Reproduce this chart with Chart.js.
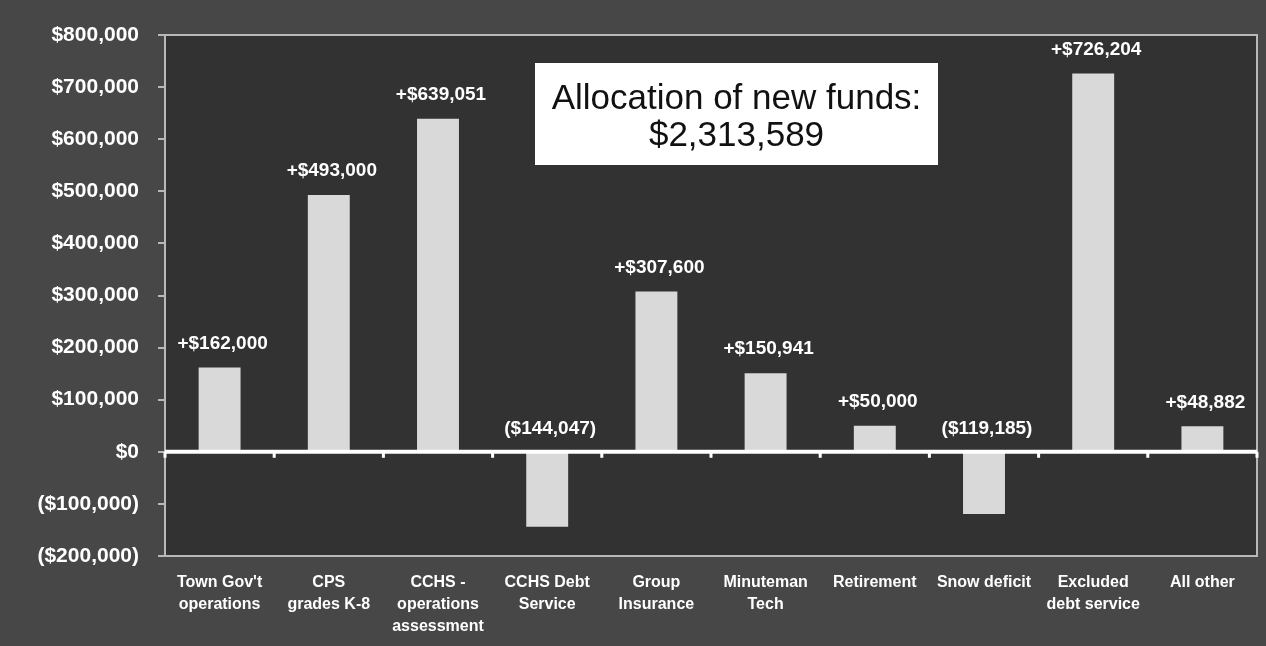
<!DOCTYPE html>
<html>
<head>
<meta charset="utf-8">
<script src="https://cdn.jsdelivr.net/npm/chart.js@4/dist/chart.umd.min.js"></script>
<style>
  html, body { margin: 0; padding: 0; background: #474747; }
  canvas { display: block; }
</style>
</head>
<body>
<canvas id="c" width="1266" height="646"></canvas>
<script>
const categories = [
  ["Town Gov't", "operations"],
  ["CPS", "grades K-8"],
  ["CCHS -", "operations", "assessment"],
  ["CCHS Debt", "Service"],
  ["Group", "Insurance"],
  ["Minuteman", "Tech"],
  ["Retirement"],
  ["Snow deficit"],
  ["Excluded", "debt service"],
  ["All other"]
];
const values = [162000, 493000, 639051, -144047, 307600, 150941, 50000, -119185, 726204, 48882];
const yTicks = { min: -200000, max: 800000, step: 100000 };
const titleLines = ["Allocation of new funds:", "$2,313,589"];

const FONT = "'Liberation Sans', Arial, Helvetica, sans-serif";
const OUTER_BG = '#474747';
const PLOT_BG = '#323232';
const FRAME = '#b8b8b8';
const BAR = '#d9d9d9';

function money(v) {
  const s = '$' + Math.abs(v).toLocaleString('en-US');
  return v < 0 ? '(' + s + ')' : s;
}
function labelText(v) {
  return v < 0 ? money(v) : '+' + money(v);
}

const decor = {
  id: 'decor',
  beforeDraw(chart) {
    const { ctx, chartArea: a } = chart;
    ctx.save();
    ctx.fillStyle = OUTER_BG;
    ctx.fillRect(0, 0, chart.width, chart.height);
    ctx.fillStyle = PLOT_BG;
    ctx.fillRect(a.left, a.top, a.right - a.left, a.bottom - a.top);
    ctx.strokeStyle = FRAME;
    ctx.lineWidth = 2;
    ctx.strokeRect(a.left, a.top, a.right - a.left, a.bottom - a.top);
    ctx.restore();
  },
  afterDatasetsDraw(chart) {
    const { ctx, chartArea: a, scales } = chart;
    const x = scales.x, y = scales.y;
    const y0 = y.getPixelForValue(0);
    ctx.save();
    // zero line
    ctx.strokeStyle = '#ffffff';
    ctx.lineWidth = 4;
    ctx.beginPath();
    ctx.moveTo(a.left, y0);
    ctx.lineTo(a.right, y0);
    ctx.stroke();
    // category boundary ticks below zero line
    ctx.lineWidth = 3;
    for (let i = 0; i <= categories.length; i++) {
      const px = x.getPixelForValue(i - 0.5);
      ctx.beginPath();
      ctx.moveTo(px, y0);
      ctx.lineTo(px, y0 + 6);
      ctx.stroke();
    }
    // value labels
    const meta = chart.getDatasetMeta(0);
    ctx.font = 'bold 19px ' + FONT;
    ctx.textAlign = 'center';
    ctx.textBaseline = 'middle';
    meta.data.forEach((bar, i) => {
      const t = labelText(values[i]);
      const top = Math.min(bar.y, bar.base);
      const ly = top - 24;
      const w = ctx.measureText(t).width;
      ctx.fillStyle = PLOT_BG;
      ctx.fillRect(bar.x - w / 2 - 4, ly - 12, w + 8, 24);
      ctx.fillStyle = '#ffffff';
      ctx.fillText(t, bar.x + 3, ly);
    });
    // title box
    const bx = 535, by = 63, bw = 403, bh = 102;
    ctx.fillStyle = '#ffffff';
    ctx.fillRect(bx, by, bw, bh);
    ctx.fillStyle = '#111111';
    ctx.font = '35px ' + FONT;
    ctx.fillText(titleLines[0], bx + bw / 2, 99);
    ctx.fillText(titleLines[1], bx + bw / 2, 136);
    ctx.restore();
  }
};

new Chart(document.getElementById('c'), {
  type: 'bar',
  data: {
    labels: categories,
    datasets: [{
      data: values,
      backgroundColor: BAR,
      borderWidth: 0,
      barPercentage: 0.384,
      categoryPercentage: 1.0
    }]
  },
  options: {
    responsive: false,
    animation: false,
    devicePixelRatio: 1,
    layout: { padding: { left: 0, top: 35, right: 9, bottom: 0 } },
    plugins: { legend: { display: false }, tooltip: { enabled: false } },
    scales: {
      x: {
        grid: { display: false, drawTicks: false },
        border: { display: false },
        ticks: {
          color: '#ffffff',
          font: { family: FONT, size: 16, weight: 'bold', lineHeight: 1.375 },
          padding: 16,
          maxRotation: 0,
          minRotation: 0,
          autoSkip: false
        },
        afterFit(scale) { scale.height = 90; }
      },
      y: {
        min: yTicks.min,
        max: yTicks.max,
        grid: { display: true, drawOnChartArea: false, drawTicks: true, tickLength: 7, color: FRAME, lineWidth: 2 },
        border: { display: true, color: FRAME, width: 2 },
        ticks: {
          stepSize: yTicks.step,
          color: '#ffffff',
          font: { family: FONT, size: 21, weight: 'bold' },
          padding: 19,
          callback: (v) => money(v)
        },
        afterFit(scale) { scale.width = 165; }
      }
    }
  },
  plugins: [decor]
});
</script>
</body>
</html>
